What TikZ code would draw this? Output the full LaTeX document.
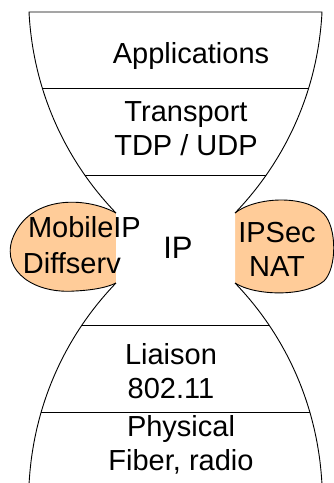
\documentclass[tikz,border=0pt]{standalone}
\usepackage{fontspec}
\setmainfont{Liberation Sans}
\definecolor{blobfill}{HTML}{FFCC99}
\newcommand{\waistoutline}{(TL) -- (TR) .. controls (318,90) and (286,160) .. (WR1)
  -- (WR2) .. controls (286,336) and (318,406) .. (BR)
  -- (BL) .. controls (33,406) and (65,336) .. (WL2)
  -- (WL1) .. controls (65,160) and (33,90) .. (TL) -- cycle}

\begin{document}
\begin{tikzpicture}[x=1pt,y=-1pt]
  \tikzset{LayerStyle/.style = {
    font          = \fontsize{29}{34}\selectfont,
    align         = center,
    text          = black,
    inner sep     = 0pt,
    outer sep     = 0pt,
    anchor        = base
    }
  }
  \tikzset{EdgeStyle/.style = {
    draw          = black,
    line width    = 0.9pt
    }
  }
  \tikzset{BlobStyle/.style = {
    draw          = black,
    fill          = blobfill,
    line width    = 0.9pt
    }
  }

  \useasboundingbox (0,0) rectangle (334,483);

  % corners of the hourglass
  \coordinate (TL) at (29,12);
  \coordinate (TR) at (322,12);
  \coordinate (WL1) at (116,213);
  \coordinate (WR1) at (235,213);
  \coordinate (WL2) at (116,283);
  \coordinate (WR2) at (235,283);
  \coordinate (BL) at (29,485);
  \coordinate (BR) at (322,485);

  % side blobs
  \draw[BlobStyle] (WL1) .. controls (85,196) and (28,195) .. (12,240)
    .. controls (2,272) and (35,294) .. (75,291)
    .. controls (95,290) and (108,287) .. (WL2);
  \draw[BlobStyle] (WR1) .. controls (255,197) and (305,194) .. (324,214)
    .. controls (337,228) and (337,268) .. (324,281)
    .. controls (305,297) and (255,296) .. (WR2);

  % white waist and layer lines
  \fill[white] \waistoutline;
  \begin{scope}
    \clip \waistoutline;
    \draw[EdgeStyle] (0,88) -- (334,88);
    \draw[EdgeStyle] (0,175) -- (334,175);
    \draw[EdgeStyle] (0,325) -- (334,325);
    \draw[EdgeStyle] (0,412) -- (334,412);
  \end{scope}

  % outline
  \draw[EdgeStyle] (WL1) .. controls (65,160) and (33,90) .. (TL) -- (TR)
    .. controls (318,90) and (286,160) .. (WR1);
  \draw[EdgeStyle] (WL2) .. controls (65,336) and (33,406) .. (BL);
  \draw[EdgeStyle] (WR2) .. controls (286,336) and (318,406) .. (BR);

  % texts (base = last line)
  \node[LayerStyle] (apps) at (191,63) {Applications};
  \node[LayerStyle] (transport) at (186,155) {Transport\\TDP / UDP};
  \node[LayerStyle, anchor=base west] (mobile) at (28,237) {MobileIP};
  \node[LayerStyle, anchor=base west] (diffserv) at (23,273) {Diffserv};
  \node[LayerStyle, font=\fontsize{31}{34}\selectfont] (ip) at (178,258) {IP};
  \node[LayerStyle] (ipsec) at (277,276) {IPSec\\NAT};
  \node[LayerStyle] (liaison) at (171,398) {Liaison\\802.11};
  \node[LayerStyle] (physical) at (181,470) {Physical\\Fiber, radio};
\end{tikzpicture}
\end{document}
